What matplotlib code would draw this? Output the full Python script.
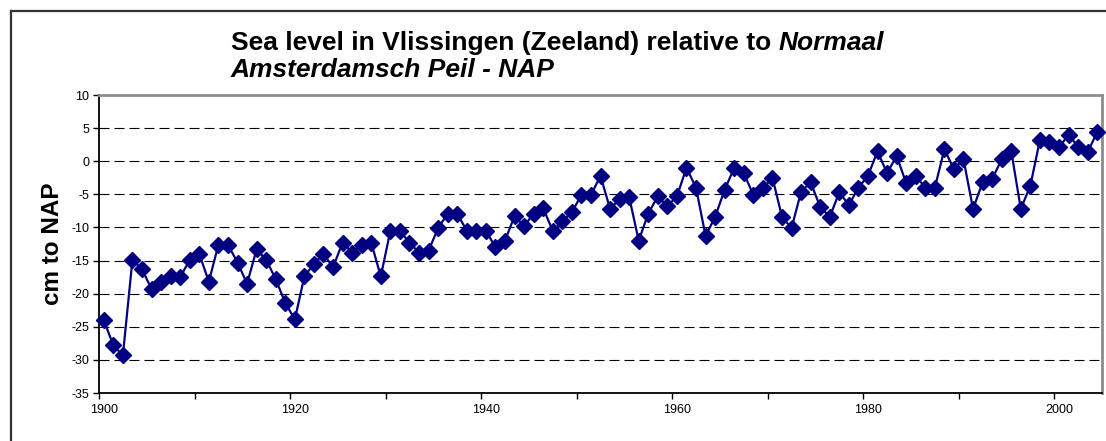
import matplotlib
matplotlib.use("Agg")
import matplotlib.pyplot as plt
from matplotlib.lines import Line2D
import numpy as np

plt.rcParams['font.family'] = ['Liberation Sans', 'DejaVu Sans']
plt.rcParams['axes.unicode_minus'] = False

# yearly mean sea level, cm relative to NAP
years = list(range(1900, 2005))
level = [
    -24.0, -27.8, -29.3, -14.9, -16.3, -19.3, -18.2, -17.4, -17.5, -14.9,
    -14.0, -18.2, -12.6, -12.6, -15.3, -18.5, -13.3, -14.9, -17.8, -21.4,
    -23.9, -17.4, -15.5, -14.0, -16.0, -12.3, -13.8, -12.6, -12.3, -17.4,
    -10.5, -10.5, -12.3, -13.8, -13.5, -10.1, -7.9, -7.9, -10.5, -10.5,
    -10.5, -13.0, -12.0, -8.3, -9.8, -7.9, -7.1, -10.5, -9.1, -7.7,
    -5.1, -5.1, -2.2, -7.2, -5.7, -5.4, -12.0, -7.9, -5.3, -6.8,
    -5.3, -1.0, -4.0, -11.3, -8.4, -4.3, -1.0, -1.8, -5.1, -4.1,
    -2.5, -8.4, -10.1, -4.6, -3.2, -6.9, -8.4, -4.7, -6.6, -4.0,
    -2.2, 1.5, -1.8, 0.8, -3.3, -2.2, -4.0, -4.0, 1.8, -1.2,
    0.3, -7.2, -3.2, -2.7, 0.3, 1.5, -7.2, -3.7, 3.2, 2.9,
    2.1, 4.0, 2.2, 1.4, 4.4,
]
year_labels = [1900, 1920, 1940, 1960, 1980, 2000]
y_ticks = list(range(-35, 11, 5))

fig = plt.figure(figsize=(11.06, 4.41), dpi=100)
ax = fig.add_axes([99/1106, 48/441, 1003/1106, 298/441])

for lv in y_ticks[1:-1]:
    ax.axhline(lv, color='black', lw=0.8, ls=(0, (9, 4.5)), zorder=1)

ax.plot(years, level, color='#000080', lw=1.6, marker='D', ms=8.3,
        mec='#000080', mfc='#000080', zorder=3, clip_on=False)

ax.set_xlim(1899.5, 2004.5)
ax.set_ylim(-35, 10)
ax.set_yticks(y_ticks)
ax.tick_params(axis='y', labelsize=9, length=4, width=1, pad=3)

# tick marks between categories, labels under the points
ax.set_xticks(np.arange(1899.5, 2005, 10))
ax.set_xticklabels([])
ax.set_xticks(year_labels, minor=True)
ax.set_xticklabels([str(y) for y in year_labels], minor=True)
ax.tick_params(axis='x', which='major', length=4, width=1)
ax.tick_params(axis='x', which='minor', length=0, labelsize=9, pad=8)

for s in ['left', 'bottom']:
    ax.spines[s].set_color('black')
    ax.spines[s].set_linewidth(1.3)
for s in ['top', 'right']:
    ax.spines[s].set_color('#8c8c8c')
    ax.spines[s].set_linewidth(2)

ax.set_ylabel('cm to NAP', fontsize=17.5, fontweight='bold', labelpad=5)

t1 = fig.text(231/1106, 1 - 50/441, 'Sea level in Vlissingen (Zeeland) relative to ',
              fontsize=19, fontweight='bold', va='baseline', ha='left')
fig.canvas.draw()
bb = t1.get_window_extent()
fig.text(bb.x1 / fig.bbox.width, 1 - 50/441, 'Normaal', fontsize=19,
         fontweight='bold', style='italic', va='baseline', ha='left')
fig.text(231/1106, 1 - 77/441, 'Amsterdamsch Peil - NAP', fontsize=19,
         fontweight='bold', style='italic', va='baseline', ha='left')

# outer chart frame
fig.add_artist(Line2D([11/1106, 1.01], [1 - 11/441, 1 - 11/441],
                      color='#333333', lw=1.6, transform=fig.transFigure))
fig.add_artist(Line2D([11/1106, 11/1106], [1 - 11/441, -0.01],
                      color='#333333', lw=1.6, transform=fig.transFigure))

fig.savefig('out.png', dpi=100)
